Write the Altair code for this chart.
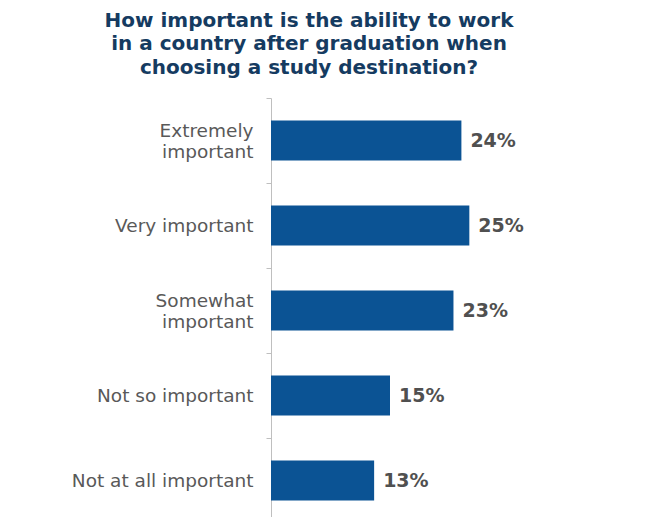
import altair as alt
import pandas as pd

categories = ["Extremely\nimportant", "Very important", "Somewhat\nimportant",
              "Not so important", "Not at all important"]
values = [24, 25, 23, 15, 13]
value_labels = ["24%", "25%", "23%", "15%", "13%"]

title_lines = ["How important is the ability to work",
               "in a country after graduation when",
               "choosing a study destination?"]

df = pd.DataFrame({"category": categories, "value": values, "label": value_labels})

y_enc = alt.Y("category:N", sort=categories, title=None,
              scale=alt.Scale(range=[0, 425], paddingInner=0.53, paddingOuter=0.265),
              axis=alt.Axis(labelExpr="split(datum.label, '\\n')",
                            tickOffset=-42.5,
                            labelOffset={"condition": {"test": "indexof(datum.value, '\\n') >= 0",
                                                       "value": 32},
                                         "value": 42.5},
                            domainColor="#bfbfbf", tickColor="#bfbfbf", tickSize=5,
                            labelFont="DejaVu Sans", labelFontSize=18.5, labelColor="#595959",
                            labelLineHeight=21, labelPadding=13, labelAlign="right",
                            labelBaseline="middle", labelLimit=300, domainWidth=1))
x_enc = alt.X("value:Q", scale=alt.Scale(domain=[0, 30], nice=False), axis=None)

bars = alt.Chart(df).mark_bar(color="#0b5394", size=40).encode(y=y_enc, x=x_enc)
texts = alt.Chart(df).mark_text(align="left", baseline="middle", dx=9,
                                font="DejaVu Sans", fontWeight="bold", fontSize=19,
                                color="#505050").encode(y=y_enc, x=x_enc, text="label:N")

chart = (bars + texts).properties(
    width=238, height=419,
    title=alt.TitleParams(text=title_lines, font="DejaVu Sans", fontWeight="bold",
                          fontSize=20, color="#153b61", lineHeight=23.5, anchor="middle",
                          dx=-81, offset=20),
    autosize=alt.AutoSizeParams(type="none"),
    padding={"left": 263, "top": 90, "right": 143, "bottom": 0},
).configure_view(stroke=None)

chart.save("out.html", embed_options={"renderer": "svg", "actions": False})
